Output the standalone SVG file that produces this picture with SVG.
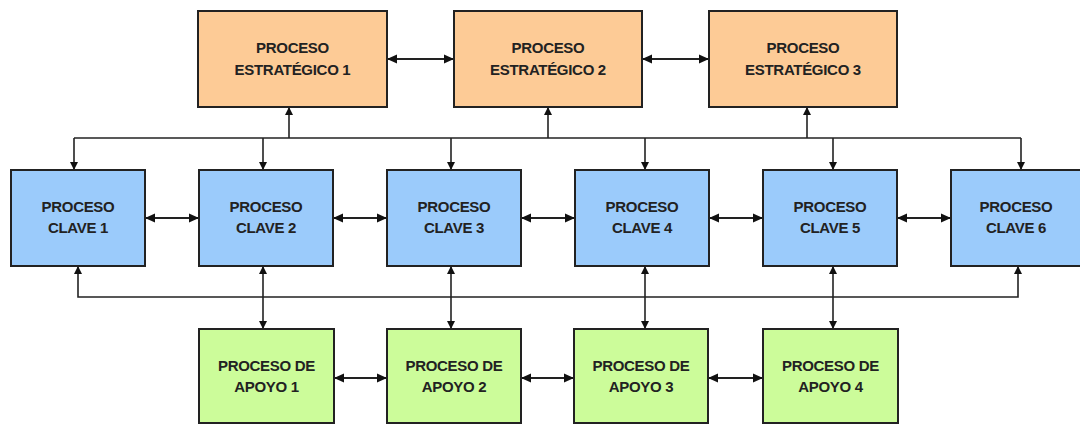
<svg xmlns="http://www.w3.org/2000/svg" width="1080" height="425" viewBox="0 0 1080 425">
  <style>
    .box { stroke: #222; stroke-width: 2; }
    .est { fill: #FDCB96; }
    .cla { fill: #9BCBFB; }
    .apo { fill: #CCFC9A; }
    .lbl { font-family: "Liberation Sans", Arial, sans-serif; font-weight: bold; font-size: 15px; fill: #222; text-anchor: middle; letter-spacing: -0.3px; }
    .ln { fill: none; stroke: #222; stroke-width: 2; }
    .ln2 { fill: none; stroke: #222; stroke-width: 1.6; }
  </style>
  <defs>
    <!-- larger head for horizontal links between neighbouring boxes -->
    <marker id="arr" viewBox="0 0 10 10" refX="10" refY="5" markerWidth="10" markerHeight="10" markerUnits="userSpaceOnUse" orient="auto-start-reverse">
      <path d="M0,0.5 L10,5 L0,9.5 z" fill="#111"/>
    </marker>
    <!-- smaller head for vertical bus links -->
    <marker id="arrs" viewBox="0 0 8 8" refX="8" refY="4" markerWidth="8" markerHeight="8" markerUnits="userSpaceOnUse" orient="auto-start-reverse">
      <path d="M0,0 L8,4 L0,8 z" fill="#111"/>
    </marker>
  </defs>

  <rect width="1080" height="425" fill="#fff"/>

  <!-- connectors -->
  <g id="connectors">
    <!-- strategic row -->
    <path class="ln" d="M387,59 H454" marker-start="url(#arr)" marker-end="url(#arr)"/>
    <path class="ln" d="M642,59 H709" marker-start="url(#arr)" marker-end="url(#arr)"/>
    <!-- upper bus -->
    <path class="ln2" d="M74,138 H1021"/>
    <path class="ln2" d="M74,138 V170" marker-end="url(#arrs)"/>
    <path class="ln2" d="M263,138 V170" marker-end="url(#arrs)"/>
    <path class="ln2" d="M451,138 V170" marker-end="url(#arrs)"/>
    <path class="ln2" d="M645,138 V170" marker-end="url(#arrs)"/>
    <path class="ln2" d="M833,138 V170" marker-end="url(#arrs)"/>
    <path class="ln2" d="M1021,138 V170" marker-end="url(#arrs)"/>
    <path class="ln2" d="M289,138 V107" marker-end="url(#arrs)"/>
    <path class="ln2" d="M548,138 V107" marker-end="url(#arrs)"/>
    <path class="ln2" d="M807,138 V107" marker-end="url(#arrs)"/>
    <!-- key row -->
    <path class="ln" d="M145,218 H199" marker-start="url(#arr)" marker-end="url(#arr)"/>
    <path class="ln" d="M333,218 H387" marker-start="url(#arr)" marker-end="url(#arr)"/>
    <path class="ln" d="M521,218 H575" marker-start="url(#arr)" marker-end="url(#arr)"/>
    <path class="ln" d="M709,218 H763" marker-start="url(#arr)" marker-end="url(#arr)"/>
    <path class="ln" d="M897,218 H951" marker-start="url(#arr)" marker-end="url(#arr)"/>
    <!-- lower bus -->
    <path class="ln2" d="M78,266 V297 H1018 V266" marker-start="url(#arrs)" marker-end="url(#arrs)"/>
    <!-- key to support -->
    <path class="ln2" d="M263,266 V329" marker-start="url(#arrs)" marker-end="url(#arrs)"/>
    <path class="ln2" d="M451,266 V329" marker-start="url(#arrs)" marker-end="url(#arrs)"/>
    <path class="ln2" d="M645,266 V329" marker-start="url(#arrs)" marker-end="url(#arrs)"/>
    <path class="ln2" d="M833,266 V329" marker-start="url(#arrs)" marker-end="url(#arrs)"/>
    <!-- support row -->
    <path class="ln" d="M334,378 H387" marker-start="url(#arr)" marker-end="url(#arr)"/>
    <path class="ln" d="M521,378 H574" marker-start="url(#arr)" marker-end="url(#arr)"/>
    <path class="ln" d="M708,378 H763" marker-start="url(#arr)" marker-end="url(#arr)"/>
  </g>

  <!-- strategic processes -->
  <g id="estrategico1">
    <rect class="box est" x="198" y="11" width="189" height="96"/>
    <text class="lbl" x="292.5" y="53">PROCESO</text>
    <text class="lbl" x="292.5" y="75">ESTRATÉGICO 1</text>
  </g>
  <g id="estrategico2">
    <rect class="box est" x="454" y="11" width="188" height="96"/>
    <text class="lbl" x="548" y="53">PROCESO</text>
    <text class="lbl" x="548" y="75">ESTRATÉGICO 2</text>
  </g>
  <g id="estrategico3">
    <rect class="box est" x="709" y="11" width="188" height="96"/>
    <text class="lbl" x="803" y="53">PROCESO</text>
    <text class="lbl" x="803" y="75">ESTRATÉGICO 3</text>
  </g>

  <!-- key processes -->
  <g id="clave1">
    <rect class="box cla" x="11" y="170" width="134" height="96"/>
    <text class="lbl" x="78" y="212">PROCESO</text>
    <text class="lbl" x="78" y="233">CLAVE 1</text>
  </g>
  <g id="clave2">
    <rect class="box cla" x="199" y="170" width="134" height="96"/>
    <text class="lbl" x="266" y="212">PROCESO</text>
    <text class="lbl" x="266" y="233">CLAVE 2</text>
  </g>
  <g id="clave3">
    <rect class="box cla" x="387" y="170" width="134" height="96"/>
    <text class="lbl" x="454" y="212">PROCESO</text>
    <text class="lbl" x="454" y="233">CLAVE 3</text>
  </g>
  <g id="clave4">
    <rect class="box cla" x="575" y="170" width="134" height="96"/>
    <text class="lbl" x="642" y="212">PROCESO</text>
    <text class="lbl" x="642" y="233">CLAVE 4</text>
  </g>
  <g id="clave5">
    <rect class="box cla" x="763" y="170" width="134" height="96"/>
    <text class="lbl" x="830" y="212">PROCESO</text>
    <text class="lbl" x="830" y="233">CLAVE 5</text>
  </g>
  <g id="clave6">
    <rect class="box cla" x="951" y="170" width="134" height="96"/>
    <text class="lbl" x="1016" y="212">PROCESO</text>
    <text class="lbl" x="1016" y="233">CLAVE 6</text>
  </g>

  <!-- support processes -->
  <g id="apoyo1">
    <rect class="box apo" x="199" y="329" width="135" height="94"/>
    <text class="lbl" x="266.5" y="371">PROCESO DE</text>
    <text class="lbl" x="266.5" y="392">APOYO 1</text>
  </g>
  <g id="apoyo2">
    <rect class="box apo" x="387" y="329" width="134" height="94"/>
    <text class="lbl" x="454" y="371">PROCESO DE</text>
    <text class="lbl" x="454" y="392">APOYO 2</text>
  </g>
  <g id="apoyo3">
    <rect class="box apo" x="574" y="329" width="134" height="94"/>
    <text class="lbl" x="641" y="371">PROCESO DE</text>
    <text class="lbl" x="641" y="392">APOYO 3</text>
  </g>
  <g id="apoyo4">
    <rect class="box apo" x="763" y="329" width="135" height="94"/>
    <text class="lbl" x="830.5" y="371">PROCESO DE</text>
    <text class="lbl" x="830.5" y="392">APOYO 4</text>
  </g>
</svg>
